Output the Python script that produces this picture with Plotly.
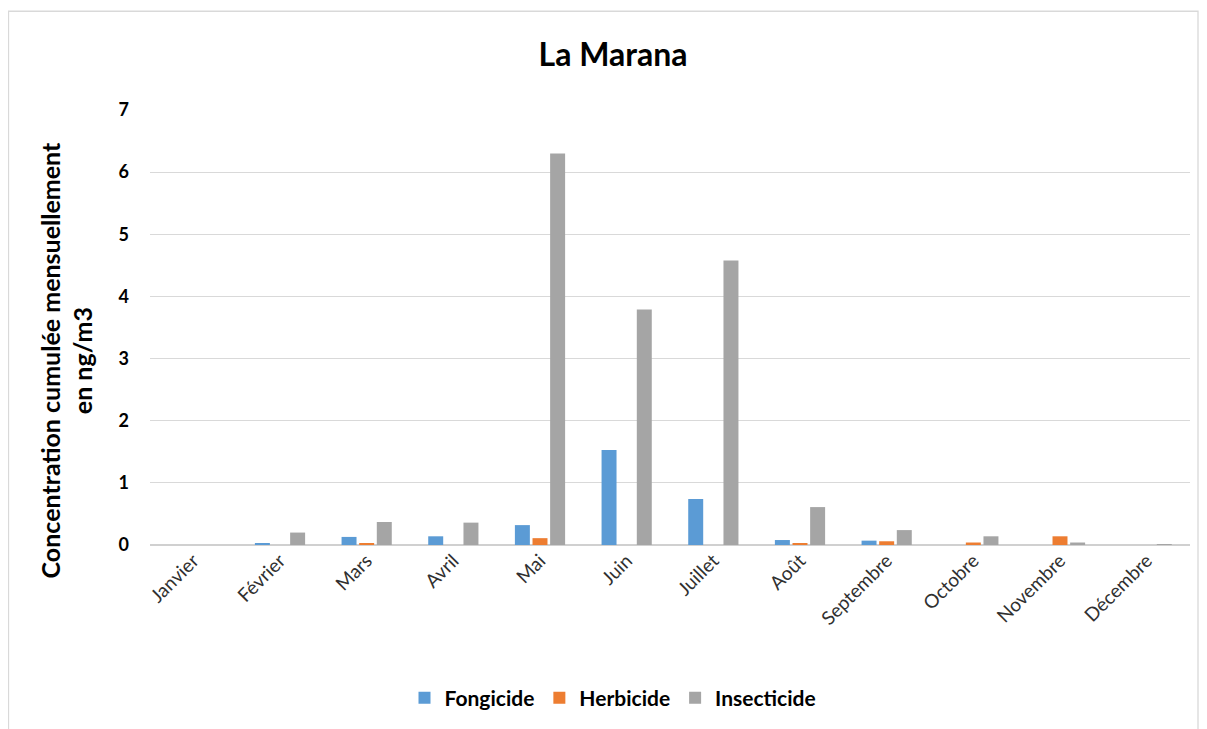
import plotly.graph_objects as go

months = ["Janvier", "Février", "Mars", "Avril", "Mai", "Juin", "Juillet",
          "Août", "Septembre", "Octobre", "Novembre", "Décembre"]
fongicide = [0, 0.02, 0.13, 0.14, 0.32, 1.53, 0.74, 0.08, 0.07, 0, 0, 0]
herbicide = [0, 0, 0.02, 0, 0.11, 0, 0, 0.02, 0.06, 0.04, 0.14, 0]
insecticide = [0, 0.2, 0.37, 0.36, 6.3, 3.79, 4.58, 0.61, 0.24, 0.14, 0.04, 0.01]
y_ticks = [0, 1, 2, 3, 4, 5, 6, 7]

FONT = "Lato, Calibri, Carlito, sans-serif"

fig = go.Figure()
for name, vals, col in [("Fongicide", fongicide, "#5b9bd5"),
                        ("Herbicide", herbicide, "#ed7d31"),
                        ("Insecticide", insecticide, "#a5a5a5")]:
    fig.add_trace(go.Bar(x=months, y=vals, name=name, marker_color=col,
                         marker_line_width=0))

# page has an 8px body margin; work in figure coordinates
W, H = 1199, 721
L, T = 142, 102
R = W - 1182
B = H - 538
pw, ph = W - L - R, H - T - B

fig.update_layout(
    width=W, height=H,
    margin=dict(l=L, r=R, t=T, b=B),
    paper_bgcolor="white", plot_bgcolor="white",
    font=dict(family=FONT, color="#000000"),
    barmode="group", bargap=0.39, bargroupgap=0.15,
    title=dict(text="<b>La Marana</b>", x=605 / W, xanchor="center",
               y=1 - 47 / H, yanchor="middle", font=dict(size=32, family=FONT)),
    xaxis=dict(tickangle=-45, tickfont=dict(size=19, family=FONT, color="#303030"),
               showgrid=False, showline=False, ticks=""),
    yaxis=dict(range=[0, 7], tickvals=y_ticks,
               tickfont=dict(size=18, family=FONT, weight="bold"),
               showgrid=True, gridcolor="#d9d9d9", gridwidth=1.3,
               zeroline=True, zerolinecolor="#d0d0d0", zerolinewidth=1.5,
               ticks="", ticklen=0, ticklabelstandoff=20),
    legend=dict(orientation="h", x=(605 - L) / pw, xanchor="center",
                y=-(690 - (H - B)) / ph, yanchor="middle",
                font=dict(size=21, family=FONT, weight="bold"), traceorder="normal"),
    annotations=[dict(text="<b>Concentration cumulée mensuellement<br>en ng/m3</b>",
                      xref="paper", yref="paper", textangle=-90,
                      x=(58 - L) / pw, y=((H - B) - 353) / ph,
                      xanchor="center", yanchor="middle", showarrow=False,
                      font=dict(size=25, family=FONT))],
    shapes=[dict(type="rect", xref="paper", yref="paper",
                 x0=(0.5 - L) / pw, x1=(1190 - L) / pw,
                 y0=-(730 - (H - B)) / ph, y1=((H - B) - 3) / ph,
                 line=dict(color="#d9d9d9", width=1.3), fillcolor="rgba(0,0,0,0)", layer="below")],
)

fig.write_html("out.html")
